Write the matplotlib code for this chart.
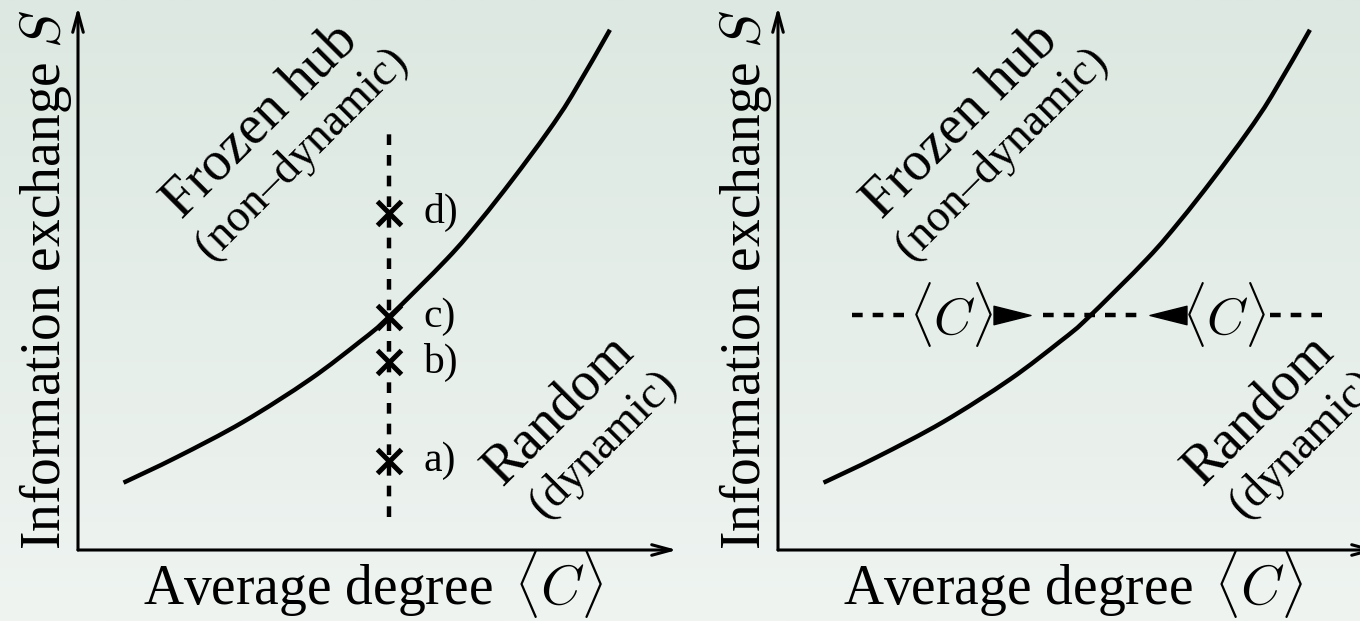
import numpy as np
import matplotlib
matplotlib.use("Agg")
import matplotlib.pyplot as plt
from matplotlib.colors import LinearSegmentedColormap
from matplotlib.path import Path
from matplotlib.patches import PathPatch

plt.rcParams['font.family'] = ['Liberation Serif', 'DejaVu Serif']
plt.rcParams['mathtext.fontset'] = 'cm'

# --- Schematic data (arbitrary units, both axes 0..10) ---
# boundary between frozen and random phase
boundary_c = [0.76, 1.65, 2.76, 3.87, 4.71, 5.15, 6.16, 6.71, 7.26, 7.83, 8.24, 8.88]
boundary_s = [1.24, 1.71, 2.36, 3.14, 3.84, 4.25, 5.36, 6.06, 6.83, 7.68, 8.36, 9.58]

# left panel: sampled networks at fixed <C>
scan_c = 5.20
scan_s_range = [0.61, 7.72]
sample_s = [1.64, 3.46, 4.29, 6.21]
sample_labels = ['a)', 'b)', 'c)', 'd)']

# right panel: <C> driven toward the boundary from both sides
drift_s = 4.33
drift_segments = [[1.24, 2.12], [4.42, 5.99], [8.21, 9.10]]
drift_label_c = [2.89, 7.45]
drift_arrow_c = [3.90, 6.51]
drift_arrow_dir = ['>', '<']

# phase labels: (text, C, S, fontsize)
phase_labels = [
    ('Frozen hub', 3.04, 7.90, 40),
    ('(non\u2013dynamic)', 3.74, 7.30, 33),
    ('Random', 8.03, 2.58, 40),
    ('(dynamic)', 8.78, 1.95, 33),
]

W, H = 1360, 621
fig = plt.figure(figsize=(W / 100, H / 100), dpi=100)

# soft vertical gradient background
bg = fig.add_axes([0, 0, 1, 1], zorder=-10)
cmap = LinearSegmentedColormap.from_list('bg', ['#dce8e1', '#eff4f1'])
bg.imshow(np.linspace(0, 1, 256)[:, None], aspect='auto', cmap=cmap,
          extent=[0, 1, 0, 1])
bg.axis('off')

LW = 3.2
DASH = (0, (2.4, 2.25))
tri = {
    '>': Path([(-1, -0.5), (1, 0), (-1, 0.5), (-1, -0.5)],
              [Path.MOVETO, Path.LINETO, Path.LINETO, Path.CLOSEPOLY]),
    '<': Path([(1, -0.5), (-1, 0), (1, 0.5), (1, -0.5)],
              [Path.MOVETO, Path.LINETO, Path.LINETO, Path.CLOSEPOLY]),
}


def smooth_path(xs, ys):
    """Cubic Bezier path through the given points (Catmull-Rom tangents)."""
    p = np.column_stack([xs, ys])
    ext = np.vstack([p[0], p, p[-1]])
    verts = [p[0]]
    codes = [Path.MOVETO]
    for i in range(len(p) - 1):
        p0, p1, p2, p3 = ext[i], ext[i + 1], ext[i + 2], ext[i + 3]
        verts += [p1 + (p2 - p0) / 6, p2 - (p3 - p1) / 6, p2]
        codes += [Path.CURVE4] * 3
    return Path(verts, codes)


def make_panel(x0_px):
    ax = fig.add_axes([x0_px / W, (H - 550) / H, 599 / W, 543 / H])
    ax.set_xlim(0, 10)
    ax.set_ylim(0, 10)
    ax.patch.set_alpha(0)
    for sp in ax.spines.values():
        sp.set_visible(False)
    ax.set_xticks([])
    ax.set_yticks([])

    arrow = dict(arrowstyle='->,head_length=14,head_width=3.8',
                 mutation_scale=1, lw=2.2, color='black',
                 shrinkA=0, shrinkB=0)
    ax.annotate('', xy=(1, 0), xytext=(0, 0), xycoords='axes fraction',
                arrowprops=arrow, annotation_clip=False)
    ax.annotate('', xy=(0, 1), xytext=(0, 0), xycoords='axes fraction',
                arrowprops=arrow, annotation_clip=False)

    ax.text(0.4925, -0.101, r'Average degree $\,\langle C\rangle$',
            transform=ax.transAxes, fontsize=40, ha='center', va='baseline')
    ax.text(-0.055, 0.497, r'Information exchange $S$',
            transform=ax.transAxes, fontsize=40, rotation=90,
            ha='center', va='center')

    ax.add_patch(PathPatch(smooth_path(boundary_c, boundary_s),
                           facecolor='none', edgecolor='black', lw=LW,
                           capstyle='butt'))

    for text, c, s, fs in phase_labels:
        ax.text(c, s, text, fontsize=fs, rotation=45, rotation_mode='anchor',
                ha='center', va='center')
    return ax


# left panel
ax1 = make_panel(78)
ax1.plot([scan_c, scan_c], scan_s_range, color='black', lw=LW, linestyle=DASH)
ax1.plot([scan_c] * len(sample_s), sample_s, linestyle='none', marker='x',
         markersize=17, markeredgewidth=3.6, color='black')
for s, lab in zip(sample_s, sample_labels):
    ax1.text(scan_c + 0.56, s, lab, fontsize=30, ha='left', va='center')

# right panel
ax2 = make_panel(778)
for seg in drift_segments:
    ax2.plot(seg, [drift_s, drift_s], color='black', lw=LW, linestyle=DASH)
for c in drift_label_c:
    ax2.text(c, drift_s, r'$\langle C\rangle$', fontsize=38,
             ha='center', va='center')
for c, d in zip(drift_arrow_c, drift_arrow_dir):
    ax2.plot([c], [drift_s], linestyle='none', marker=tri[d],
             markersize=26.6, color='black')

fig.savefig('out.png', dpi=100)
